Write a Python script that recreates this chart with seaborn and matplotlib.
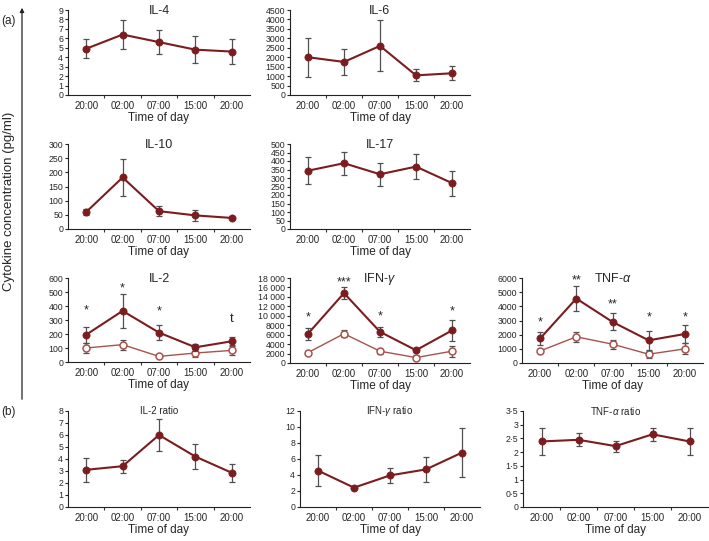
import numpy as np
import matplotlib
import matplotlib.pyplot as plt
import seaborn as sns
from matplotlib.ticker import FuncFormatter, MultipleLocator, FixedLocator
from matplotlib.patches import FancyArrowPatch

# time points (x categories)
times = ['20:00', '02:00', '07:00', '15:00', '20:00']

# (a) cytokine concentrations, mean and error
il4_mean = [4.9, 6.4, 5.6, 4.8, 4.6]
il4_err = [1.0, 1.5, 1.3, 1.4, 1.35]
il6_mean = [2000, 1750, 2600, 1040, 1150]
il6_err = [1030, 680, 1350, 320, 370]
il10_mean = [60, 182, 63, 48, 39]
il10_err = [10, 65, 17, 20, 5]
il17_mean = [343, 387, 322, 367, 270]
il17_err = [80, 68, 67, 73, 73]

il2_mean = [195, 365, 210, 105, 148]
il2_err = [57, 122, 53, 25, 30]
il2_open = [100, 124, 40, 64, 83]
il2_open_err = [38, 36, 5, 30, 30]
il2_sig = ['*', '*', '*', '', 't']
il2_sig_y = [369, 528, 362, 0, 307]

ifn_mean = [6200, 14800, 6600, 2700, 6900]
ifn_err = [1250, 1300, 1100, 350, 2200]
ifn_open = [2200, 6200, 2500, 1150, 2500]
ifn_open_err = [300, 700, 500, 450, 1200]
ifn_sig = ['*', '***', '*', '', '*']
ifn_sig_y = [9680, 17080, 9960, 0, 10900]

tnf_mean = [1730, 4550, 2900, 1600, 2050]
tnf_err = [470, 880, 600, 650, 650]
tnf_open = [850, 1850, 1330, 620, 1000]
tnf_open_err = [150, 350, 320, 250, 380]
tnf_sig = ['*', '**', '**', '*', '*']
tnf_sig_y = [2890, 5800, 4100, 3200, 3200]

# (b) ratios
il2_ratio = [3.1, 3.4, 6.0, 4.2, 2.85]
il2_ratio_err = [1.0, 0.55, 1.35, 1.05, 0.75]
ifn_ratio = [4.55, 2.42, 3.95, 4.7, 6.8]
ifn_ratio_err = [1.9, 0.1, 0.95, 1.55, 3.05]
tnf_ratio = [2.39, 2.45, 2.22, 2.65, 2.39]
tnf_ratio_err = [0.49, 0.23, 0.2, 0.23, 0.49]

sns.set_style('ticks')
plt.rcParams['font.family'] = ['Liberation Sans', 'DejaVu Sans']
plt.rcParams['mathtext.fontset'] = 'custom'
plt.rcParams['mathtext.rm'] = 'Liberation Sans'
plt.rcParams['mathtext.it'] = 'Liberation Sans:italic'

dark = '#7b1c1f'
light = '#a9524d'
ecol = '#505050'

W, H = 709, 541
fig = plt.figure(figsize=(W / 100, H / 100), dpi=100)


def make_ax(l, t, r, b):
    return fig.add_axes([l / W, 1 - b / H, (r - l) / W, (b - t) / H])


def panel(ax, title, mean, err, ymax, ystep, open_mean=None, open_err=None,
          sig=None, sig_y=None, small=False, fmt=None):
    x = np.arange(len(times))
    if open_mean is not None:
        ax.errorbar(x, open_mean, yerr=open_err, fmt='none', ecolor=ecol,
                    elinewidth=0.9, capsize=2, capthick=0.9, zorder=1)
        sns.lineplot(x=x, y=open_mean, ax=ax, color=light, lw=1.0, marker='o',
                     markersize=5, markerfacecolor='white', mec=light, mew=1.1, zorder=2)
    ax.errorbar(x, mean, yerr=err, fmt='none', ecolor=ecol,
                elinewidth=0.9, capsize=2, capthick=0.9, zorder=3)
    sns.lineplot(x=x, y=mean, ax=ax, color=dark, lw=1.5, marker='o',
                 markersize=5.2, markerfacecolor=dark, mec=dark, mew=0.5, zorder=4)
    if sig is not None:
        for xi, s, sy in zip(x, sig, sig_y):
            if s:
                ax.text(xi, sy, s, ha='center', va='center', fontsize=9 if s != 't' else 9.5)
    ax.set_xlim(-0.5, 4.5)
    ax.set_ylim(0, ymax)
    ax.yaxis.set_major_locator(MultipleLocator(ystep))
    if fmt is not None:
        ax.yaxis.set_major_formatter(FuncFormatter(fmt))
    ax.xaxis.set_major_locator(FixedLocator(x))
    ax.set_xticklabels(times)
    ax.xaxis.set_minor_locator(FixedLocator(x[:-1] + 0.5))
    ax.tick_params(axis='x', which='major', length=0, labelsize=7, pad=4)
    ax.tick_params(axis='x', which='minor', length=2.5, width=0.8, color='#333333')
    ax.tick_params(axis='y', length=2, width=0.8, labelsize=6.3, pad=1.5)
    ax.set_xlabel('Time of day', fontsize=8.5, labelpad=1)
    ax.set_ylabel('')
    for side in ['top', 'right']:
        ax.spines[side].set_visible(False)
    for side in ['left', 'bottom']:
        ax.spines[side].set_linewidth(0.8)
        ax.spines[side].set_color('#222222')
    ax.text(0.5, 0.99 if not small else 1.0, title, transform=ax.transAxes, ha='center',
            va='center', fontsize=9 if not small else 7)


def thousands(v, pos):
    v = int(round(v))
    return f'{v:,}'.replace(',', ' ') if v >= 10000 else f'{v}'


def middot(v, pos):
    return f'{v:g}'.replace('.', '·')


panel(make_ax(68, 10, 250, 95), 'IL-4', il4_mean, il4_err, 9, 1)
panel(make_ax(290, 10, 470, 95), 'IL-6', il6_mean, il6_err, 4500, 500)
panel(make_ax(68, 144, 250, 229), 'IL-10', il10_mean, il10_err, 300, 50)
panel(make_ax(290, 144, 470, 229), 'IL-17', il17_mean, il17_err, 500, 50)
panel(make_ax(68, 278, 250, 362), 'IL-2', il2_mean, il2_err, 600, 100,
      il2_open, il2_open_err, il2_sig, il2_sig_y)
panel(make_ax(290, 278, 470, 363), 'IFN-$\\mathit{\\gamma}$', ifn_mean, ifn_err, 18000, 2000,
      ifn_open, ifn_open_err, ifn_sig, ifn_sig_y, fmt=thousands)
panel(make_ax(522, 278, 703, 363), 'TNF-$\\mathit{\\alpha}$', tnf_mean, tnf_err, 6000, 1000,
      tnf_open, tnf_open_err, tnf_sig, tnf_sig_y)
panel(make_ax(68, 411, 250, 507), 'IL-2 ratio', il2_ratio, il2_ratio_err, 8, 1, small=True)
panel(make_ax(300, 411, 480, 507), 'IFN-$\\mathit{\\gamma}$ ratio', ifn_ratio, ifn_ratio_err,
      12, 2, small=True)
panel(make_ax(523, 411, 708, 507), 'TNF-$\\mathit{\\alpha}$ ratio', tnf_ratio, tnf_ratio_err,
      3.5, 0.5, small=True, fmt=middot)

# panel letters, shared y label and arrow
fig.text(8 / W, 1 - 21 / H, '(a)', ha='center', va='center', fontsize=8.5)
fig.text(8 / W, 1 - 412 / H, '(b)', ha='center', va='center', fontsize=8.5)
fig.text(9 / W, 1 - 201 / H, 'Cytokine concentration (pg/ml)', rotation=90,
         ha='center', va='center', fontsize=9.5)
arrow = FancyArrowPatch((22 / W, 1 - 402 / H), (22 / W, 1 - 5 / H), transform=fig.transFigure,
                        arrowstyle='-|>', mutation_scale=6, lw=0.9, color='#222222')
fig.add_artist(arrow)

fig.savefig('out.png', dpi=100)
